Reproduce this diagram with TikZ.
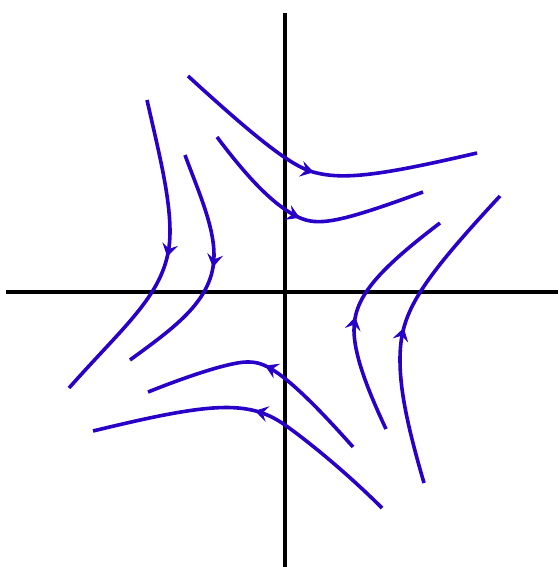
\documentclass[tikz,border=0pt]{standalone}
\usetikzlibrary{arrows.meta,decorations.markings}
\definecolor{flowblue}{RGB}{40,0,200}
\tikzset{
  axisline/.style={line width=4pt,black},
  flowline/.style={line width=3.6pt,flowblue,line cap=butt,
    postaction={decorate,decoration={markings,
      mark=at position #1 with {\arrow[flowblue,line width=1pt]{Stealth[length=13pt,width=16pt,inset=5pt]}}}}},
  flowline/.default=0.49
}
\begin{document}
\begin{tikzpicture}[x=1pt,y=-1pt]
\useasboundingbox (0,0) rectangle (558,567);
% axes
\draw[axisline] (285,13) -- (285,567);
\draw[axisline] (6,292) -- (558,292);
% top (flow to the right)
\draw[flowline=0.49] (188,76) .. controls (259.5,141.5) and (291.8,166.1) .. (313,172)
  .. controls (342.9,180.3) and (379.6,175.7) .. (477,153);
\draw[flowline=0.476] (217,137) .. controls (250.6,181.8) and (275.5,206.2) .. (298,217)
  .. controls (317.8,226.5) and (338.5,223) .. (423,192);
% left (flow downwards)
\draw[flowline=0.49] (147,100) .. controls (158,149) and (170,195) .. (170,232)
  .. controls (170,290) and (128.7,320.6) .. (69,388);
\draw[flowline=0.478] (185,155) .. controls (197,188) and (214,225) .. (214,255)
  .. controls (214,300) and (175,327) .. (130,360);
% right (flow upwards)
\draw[flowline=0.49] (424,483) .. controls (407.2,425.4) and (400,390) .. (400,360)
  .. controls (400,315) and (415.3,287.1) .. (500,196);
\draw[flowline=0.478] (386,429) .. controls (364.7,383.8) and (354,352) .. (354,330)
  .. controls (354,300) and (372.3,274.3) .. (440,223);
% bottom (flow to the left)
\draw[flowline=0.496] (353,447) .. controls (278.6,363.3) and (262,362) .. (247,362)
  .. controls (232,362) and (194.4,373.5) .. (148,392);
\draw[flowline=0.495] (382,508) .. controls (352.3,478.3) and (313.6,445.2) .. (285,425)
  .. controls (248.2,399.1) and (209.6,402.7) .. (93,431);
\end{tikzpicture}
\end{document}
